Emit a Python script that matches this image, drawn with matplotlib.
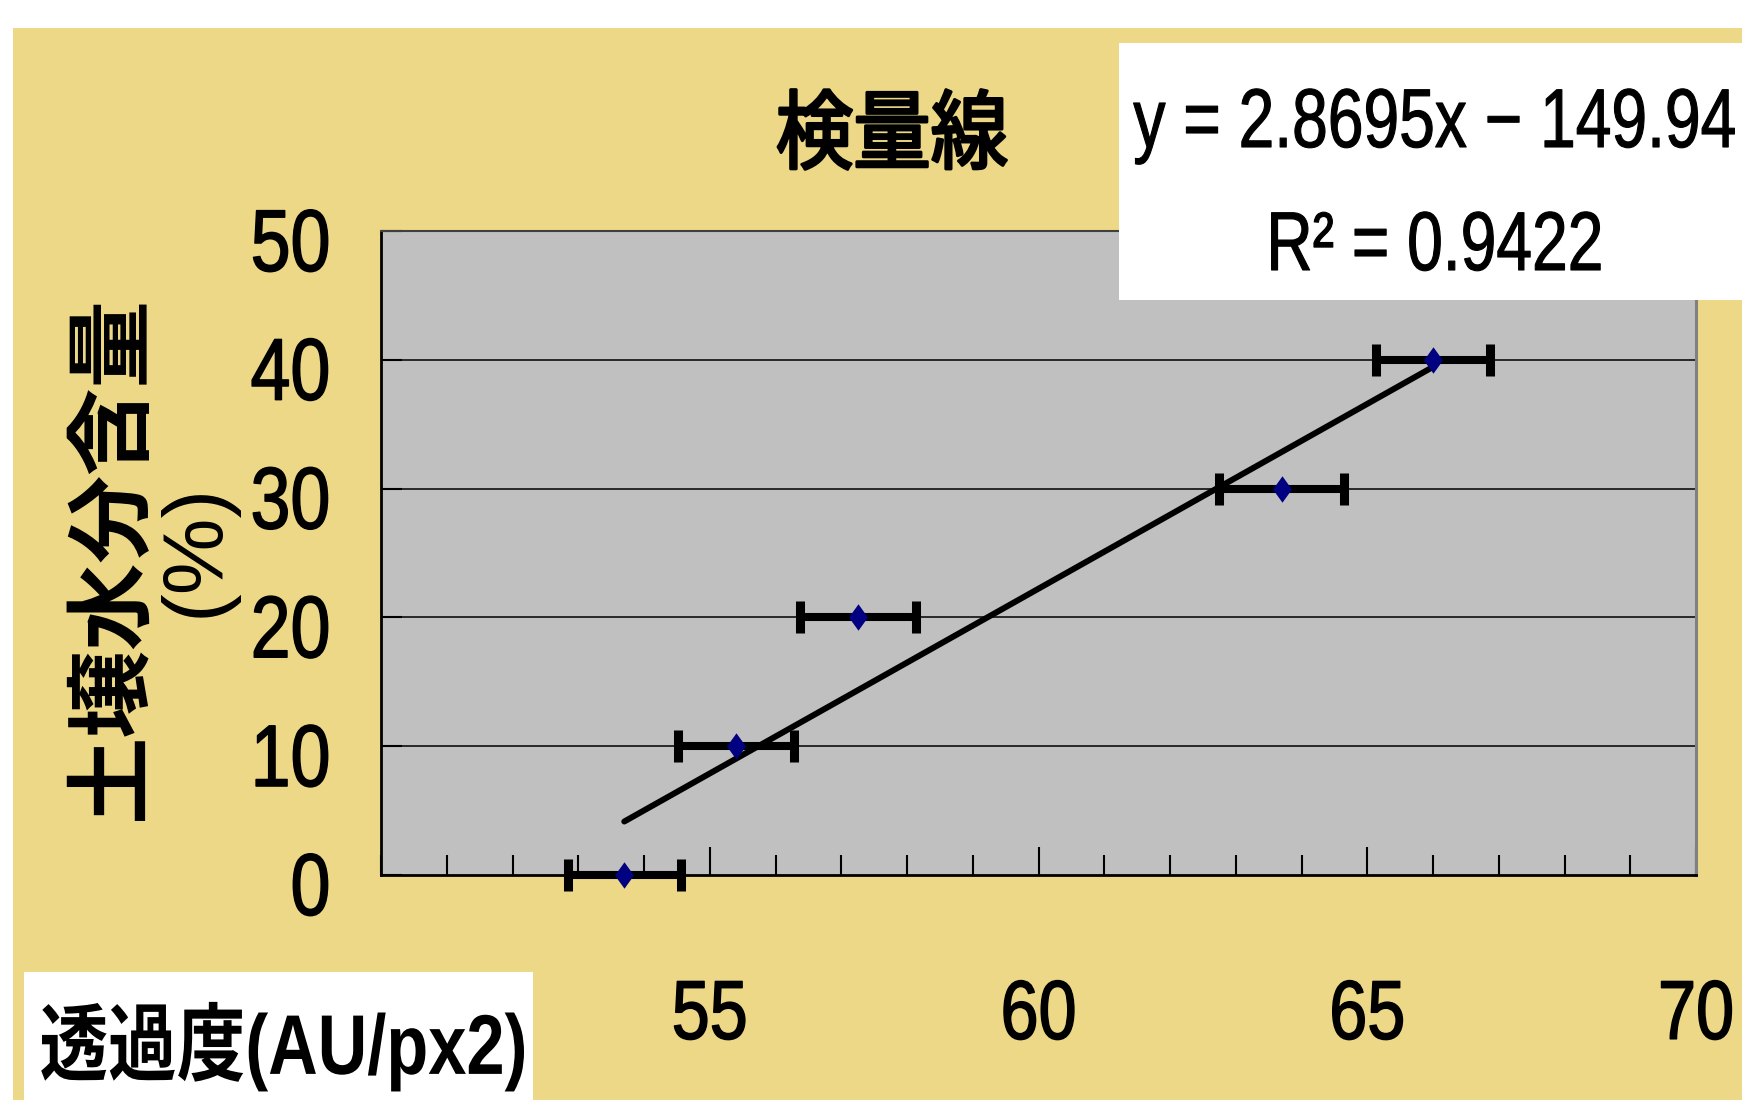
import matplotlib
matplotlib.use("Agg")
import matplotlib.pyplot as plt
import numpy as np
from matplotlib.patches import Rectangle
from matplotlib.patheffects import AbstractPathEffect
from matplotlib.transforms import Affine2D
from matplotlib.ticker import FixedLocator, MultipleLocator

# ---- data ----
transmittance = [53.7, 55.4, 57.25, 63.7, 66.0]      # 透過度 (AU/px2)
moisture = [0, 10, 20, 30, 40]                         # 土壌水分含量 (%)
transmittance_err = [0.86, 0.88, 0.88, 0.95, 0.87]
slope, intercept = 2.8695, -149.94
r_squared = 0.9422
x_ticks = [55, 60, 65, 70]
y_ticks = [0, 10, 20, 30, 40, 50]

# ---- fonts ----
LATIN = "Liberation Sans"
MIXED = [LATIN, "Noto Sans CJK JP"]

YELLOW = "#ECD886"
PLOT_GRAY = "#C0C0C0"


class Condense(AbstractPathEffect):
    """Rescale glyph outlines (x about an anchor, y about the baseline),
    optionally thickening them with a stroke."""

    def __init__(self, sx=1.0, anchor="center", offset=(0, 0), stroke=0.0, sy=1.0):
        super().__init__(offset)
        self.sx = sx
        self.sy = sy
        self.anchor = anchor
        self.stroke = stroke

    def draw_path(self, renderer, gc, tpath, affine, rgbFace=None):
        ext = tpath.get_extents()
        if self.anchor == "left":
            x0 = ext.x0
        elif self.anchor == "right":
            x0 = ext.x1
        else:
            x0 = 0.5 * (ext.x0 + ext.x1)
        squeeze = Affine2D().translate(-x0, 0).scale(self.sx, self.sy).translate(x0, 0)
        trans = squeeze + affine + self._offset_transform(renderer)
        if self.stroke > 0:
            gc0 = renderer.new_gc()
            gc0.copy_properties(gc)
            gc0.set_linewidth(self.stroke)
            gc0.set_foreground(rgbFace if rgbFace is not None else "black")
            gc0.set_joinstyle("round")
            renderer.draw_path(gc0, tpath, trans, rgbFace)
            gc0.restore()
        else:
            renderer.draw_path(gc, tpath, trans, rgbFace)


W, H = 1742, 1100
fig = plt.figure(figsize=(W / 100, H / 100), dpi=100)
fig.patch.set_facecolor("white")


def fx(px):
    return px / W


def fy(py):
    return 1 - py / H


# yellow chart area
fig.patches.append(Rectangle((fx(13), 0), 1 - fx(13), fy(28), transform=fig.transFigure,
                             facecolor=YELLOW, edgecolor="none", zorder=-10))

ax = fig.add_axes([fx(381), fy(875), fx(1696) - fx(381), fy(231) - fy(875)])
ax.set_facecolor(PLOT_GRAY)
ax.set_xlim(50, 70)
ax.set_ylim(0, 50)

# grid lines
for v in y_ticks[1:-1]:
    ax.axhline(v, color="black", lw=1.1, zorder=1)

# horizontal error bars
eb = ax.errorbar(transmittance, moisture, xerr=transmittance_err, fmt="none",
                 ecolor="black", elinewidth=5.8, capsize=11.5, capthick=6.5, zorder=3)
for art in list(eb.lines[1]) + list(eb.lines[2]):
    art.set_clip_on(False)

# linear trend line over the data range
xs = np.array([min(transmittance), max(transmittance)])
ax.plot(xs, slope * xs + intercept, color="black", lw=4.3, solid_capstyle="round", zorder=4)

diamond = [(0, 1), (0.72, 0), (0, -1), (-0.72, 0), (0, 1)]
ax.plot(transmittance, moisture, linestyle="none", marker=diamond, markersize=19,
        color="#000080", markeredgewidth=0, zorder=5, clip_on=False)

# spines
for side in ("left", "bottom"):
    ax.spines[side].set_color("black")
    ax.spines[side].set_linewidth(2.0)
ax.spines["top"].set_color("#404040")
ax.spines["top"].set_linewidth(1.5)
ax.spines["right"].set_color("#808080")
ax.spines["right"].set_linewidth(2.2)

# ticks
ax.xaxis.set_major_locator(FixedLocator(x_ticks))
ax.xaxis.set_minor_locator(MultipleLocator(1))
ax.set_xticklabels([str(t) for t in x_ticks])
ax.set_yticks(y_ticks)
ax.set_yticklabels([str(t) for t in y_ticks])
ax.tick_params(axis="x", which="major", direction="in", length=20, width=1.5, pad=74,
               labelsize=60)
ax.tick_params(axis="x", which="minor", direction="in", length=14.4, width=1.5)
ax.tick_params(axis="y", which="major", direction="in", length=15, width=1.5, pad=36,
               labelsize=63)
for lab in ax.get_xticklabels():
    lab.set_fontfamily(LATIN)
    lab.set_path_effects([Condense(0.82, stroke=1.1)])
for lab in ax.get_yticklabels():
    lab.set_fontfamily(LATIN)
    lab.set_path_effects([Condense(0.82, anchor="right", offset=(0, -6), stroke=1.1)])

# title
fig.text(fx(892), fy(140), "検量線", family=MIXED, fontsize=62,
         ha="center", va="center", path_effects=[Condense(0.9, stroke=2.2)])

# y axis label
fig.text(fx(114), fy(557), "土壌水分含量", family=MIXED, fontsize=63, weight="bold",
         rotation=90, ha="center", va="center")
fig.text(fx(197), fy(550), "(%)", family=MIXED, fontsize=62, rotation=90,
         ha="center", va="center")

# x axis label on white panel
fig.patches.append(Rectangle((fx(24), 0), fx(533) - fx(24), fy(972), transform=fig.transFigure,
                             facecolor="white", edgecolor="none", zorder=2))
fig.text(fx(39), fy(1047), "透過度(AU/px2)", family=MIXED, fontsize=61, weight="bold",
         ha="left", va="center", zorder=3, path_effects=[Condense(0.81, anchor="left")])

# regression panel: narrow glyphs made by stretching a smaller font upward from the baseline
EQ_SIZE = 46.2
EQ_STRETCH = 1 / 0.77
fig.patches.append(Rectangle((fx(1119), fy(300)), 1 - fx(1119), fy(43) - fy(300),
                             transform=fig.transFigure, facecolor="white",
                             edgecolor="none", zorder=5))
fig.text(fx(1435), fy(147), f"y = {slope}x − {abs(intercept)}", family=LATIN,
         fontsize=EQ_SIZE, ha="center", va="baseline", zorder=6,
         path_effects=[Condense(sy=EQ_STRETCH, stroke=0.8)])
fig.text(fx(1435), fy(270), f"R² = {r_squared}", family=LATIN,
         fontsize=EQ_SIZE, ha="center", va="baseline", zorder=6,
         path_effects=[Condense(sy=EQ_STRETCH, stroke=0.8)])

fig.savefig("out.png", dpi=100)
